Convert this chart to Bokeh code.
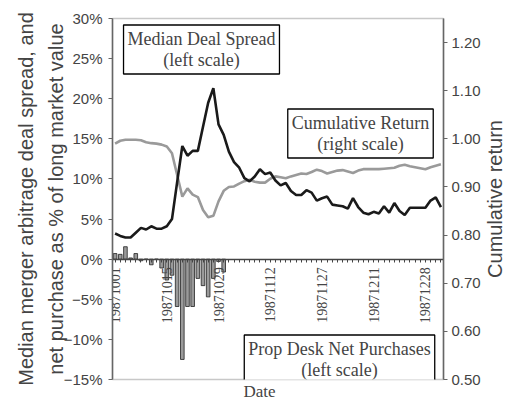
import math
from bokeh.plotting import figure
from bokeh.layouts import row
from bokeh.models import (FactorRange, Range1d, LinearAxis, CategoricalAxis,
                          FixedTicker, Label, Title, CustomJSTickFormatter)
from bokeh.embed import file_html
from bokeh.resources import INLINE

# ---- data -------------------------------------------------------------
dates = [
    "19871001", "19871002", "19871005", "19871006", "19871007", "19871008", "19871009",
    "19871012", "19871013", "19871014", "19871015", "19871016", "19871019", "19871020",
    "19871021", "19871022", "19871023", "19871026", "19871027", "19871028", "19871029",
    "19871030",
    "19871102", "19871103", "19871104", "19871105", "19871106", "19871109", "19871110",
    "19871111", "19871112", "19871113", "19871116", "19871117", "19871118", "19871119",
    "19871120", "19871123", "19871124", "19871125", "19871127", "19871130",
    "19871201", "19871202", "19871203", "19871204", "19871207", "19871208", "19871209",
    "19871210", "19871211", "19871214", "19871215", "19871216", "19871217", "19871218",
    "19871221", "19871222", "19871223", "19871224", "19871228", "19871229", "19871230",
    "19871231",
]

# Median deal spread (% , left scale)
spread = [3.2, 2.9, 2.7, 2.7, 3.3, 3.9, 3.7, 4.1, 3.8, 3.8,
          4.1, 5.0, 9.6, 14.1, 12.9, 13.5, 13.5, 16.5, 19.5, 21.3,
          16.8, 15.5, 13.4, 12.1, 11.4, 10.1, 9.7, 10.3, 11.2, 10.6,
          10.8, 9.8, 9.2, 9.5, 8.5, 8.0, 8.0, 8.6, 8.3, 7.3,
          7.6, 7.8, 6.8, 6.7, 6.6, 6.3, 7.6, 6.5, 5.8, 5.6,
          5.9, 5.7, 6.6, 5.8, 7.0, 6.0, 5.5, 6.4, 6.4, 6.4,
          6.4, 7.3, 7.7, 6.5]

# Cumulative return (right scale)
cum_return = [0.990, 0.996, 0.998, 0.998, 0.998, 0.997, 0.993, 0.991, 0.990, 0.988,
              0.984, 0.970, 0.925, 0.880, 0.897, 0.884, 0.879, 0.852, 0.837, 0.840,
              0.870, 0.892, 0.900, 0.901, 0.907, 0.912, 0.915, 0.911, 0.909, 0.909,
              0.917, 0.922, 0.920, 0.918, 0.922, 0.925, 0.928, 0.927, 0.931, 0.936,
              0.933, 0.928, 0.931, 0.934, 0.935, 0.932, 0.929, 0.934, 0.937, 0.937,
              0.937, 0.937, 0.938, 0.939, 0.940, 0.944, 0.946, 0.943, 0.941, 0.939,
              0.937, 0.941, 0.944, 0.947]

# Prop desk net purchases (% , left scale), October only
bar_dates = dates[:22]
purchases = [0.7, 0.6, 1.55, 0.15, 0.7, -0.2, 0.0, -0.7, 0.0, -1.1,
             -2.6, -2.0, -5.9, -12.5, -5.9, -5.9, -2.4, -3.3, -4.7, -2.4,
             -0.3, -1.6]

left_ticks = [-15, -10, -5, 0, 5, 10, 15, 20, 25, 30]
left_tick_labels = ["\u221215%", "\u221210%", "\u22125%", "0%", "5%", "10%",
                    "15%", "20%", "25%", "30%"]
right_ticks = [0.5, 0.6, 0.7, 0.8, 0.9, 1.0, 1.1, 1.2]
right_tick_labels = ["0.50", "0.60", "0.70", "0.80", "0.90", "1.00", "1.10", "1.20"]
date_labels = ["19871001", "19871015", "19871029", "19871112", "19871127",
               "19871211", "19871228"]

SANS = "Liberation Sans"
SERIF = "Liberation Serif"
AXIS_COLOR = "#666666"

# ---- main figure ------------------------------------------------------
p = figure(x_range=FactorRange(factors=dates), y_range=Range1d(-15, 30),
           width=483, height=400,
           min_border_left=112, min_border_top=18, min_border_right=38,
           min_border_bottom=0,
           x_axis_location=None, output_backend="svg", toolbar_location=None)
p.extra_y_ranges = {"ret": Range1d(0.5, 1.25)}
p.xgrid.visible = False
p.ygrid.visible = False
p.outline_line_color = "#c8c8c8"
p.outline_line_width = 1.5
p.background_fill_color = "white"
p.border_fill_color = "white"

# left axis
ya = p.yaxis[0]
ya.ticker = FixedTicker(ticks=left_ticks)
ya.major_label_overrides = dict(zip(left_ticks, left_tick_labels))
ya.axis_label = "Median merger arbitrage deal spread, and\nnet purchase as % of long market value"
ya.axis_label_text_font = SANS
ya.axis_label_text_font_size = "20px"
ya.axis_label_text_font_style = "normal"
ya.axis_label_text_line_height = 1.35
ya.axis_label_standoff = -6
ya.major_label_text_font = SANS
ya.major_label_text_font_size = "15px"
ya.major_label_standoff = 6
ya.major_tick_in = 0
ya.major_tick_out = 4
ya.minor_tick_in = 0
ya.minor_tick_out = 0
ya.axis_line_color = AXIS_COLOR
ya.axis_line_width = 1.5
ya.major_tick_line_color = AXIS_COLOR

# right axis
ra = LinearAxis(y_range_name="ret", ticker=FixedTicker(ticks=right_ticks))
ra.major_label_overrides = dict(zip(right_ticks, right_tick_labels))
ra.major_label_text_font = SANS
ra.major_label_text_font_size = "15px"
ra.major_label_standoff = 4
ra.major_tick_in = 0
ra.major_tick_out = 4
ra.minor_tick_in = 0
ra.minor_tick_out = 0
ra.axis_line_color = AXIS_COLOR
ra.axis_line_width = 1.5
ra.major_tick_line_color = AXIS_COLOR
p.add_layout(ra, "right")

# bars
p.vbar(x=bar_dates, top=purchases, bottom=0, width=0.7,
       fill_color="#9a9a9a", line_color="#222222", line_width=0.8)

# lines
p.line(x=dates, y=cum_return, y_range_name="ret", line_color="#9a9a9a", line_width=2.6)
p.line(x=dates, y=spread, line_color="#1a1a1a", line_width=2.6)

# x axis at 0%
xa = CategoricalAxis(fixed_location=0)
xa.formatter = CustomJSTickFormatter(args=dict(show=date_labels),
                                     code="return show.includes(tick) ? tick : '';")
xa.major_label_orientation = math.pi / 2
xa.major_label_text_font = SERIF
xa.major_label_text_font_size = "14px"
xa.major_label_standoff = 5
xa.major_tick_in = 0
xa.major_tick_out = 3
xa.axis_line_color = "#444444"
xa.axis_line_width = 1.5
xa.major_tick_line_color = "#444444"
p.add_layout(xa, "below")

p.add_layout(Title(text="Date", align="left", offset=131, standoff=0,
                   text_font=SERIF, text_font_size="17px",
                   text_font_style="normal"), "below")

# annotation boxes (screen units, relative to the plot frame)
box_style = dict(x_units="screen", y_units="screen", text_align="center",
                 text_baseline="middle", text_font=SERIF, text_font_size="18px",
                 text_line_height=1.05, border_line_color="black",
                 border_line_width=1.3, background_fill_color="white", padding=4)
p.add_layout(Label(x=89, y=330, text="Median Deal Spread\n(left scale)", **box_style))
p.add_layout(Label(x=248, y=246, text="Cumulative Return\n(right scale)", **box_style))
p.add_layout(Label(x=227, y=20, text="Prop Desk Net Purchases\n(left scale)", **box_style))

# ---- narrow strip carrying the right-hand axis title -------------------
p2 = figure(width=22, height=400, x_axis_location=None, y_axis_location=None,
            min_border=0, output_backend="svg", toolbar_location=None)
p2.xgrid.visible = False
p2.ygrid.visible = False
p2.outline_line_color = None
p2.background_fill_color = "white"
p2.border_fill_color = "white"
p2.add_layout(Title(text="Cumulative return", align="center", standoff=0,
                    text_font=SANS, text_font_size="20px",
                    text_font_style="normal"), "left")

open("out.html", "w").write(file_html(row(p, p2), INLINE))
